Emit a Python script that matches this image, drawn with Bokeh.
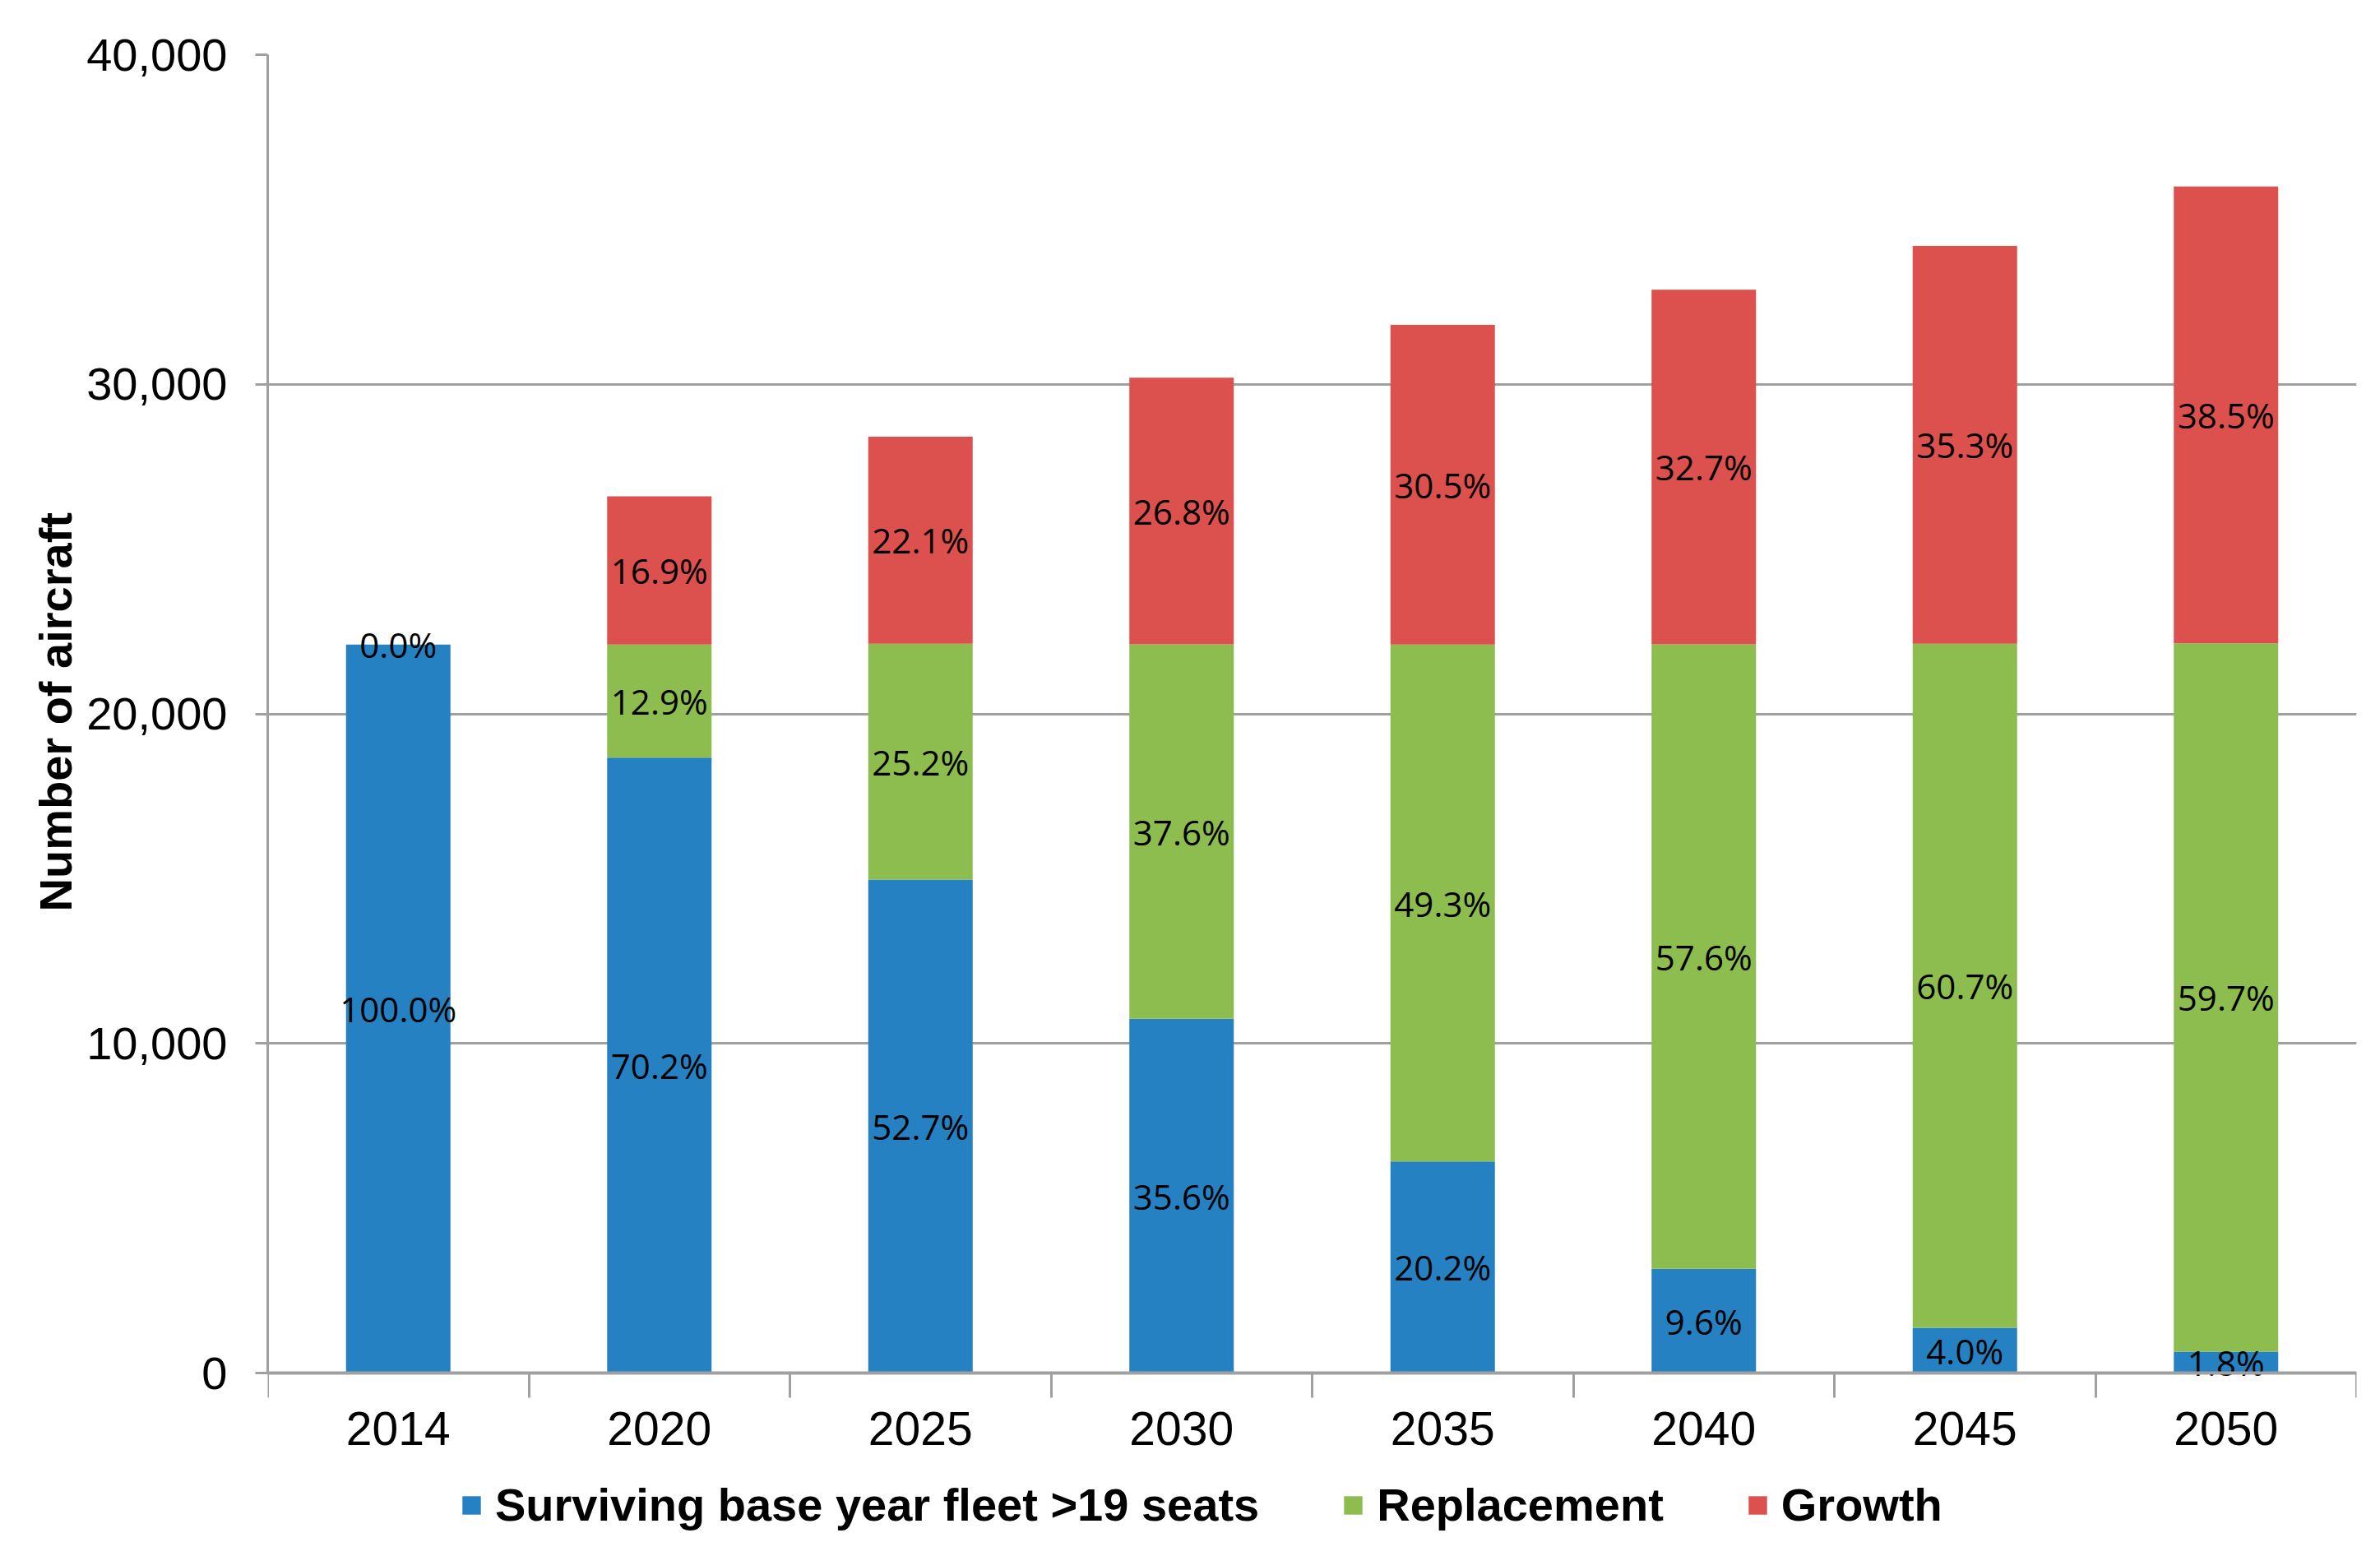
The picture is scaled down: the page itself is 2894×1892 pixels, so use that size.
from bokeh.plotting import figure
from bokeh.models import (ColumnDataSource, FactorRange, LinearAxis, FixedTicker, Range1d,
                          NumeralTickFormatter, Legend, LegendItem, SingleIntervalTicker, Title)
from bokeh.core.properties import value
from bokeh.embed import file_html
from bokeh.resources import INLINE

years = ["2014", "2020", "2025", "2030", "2035", "2040", "2045", "2050"]
surviving = [22100, 18670, 14970, 10750, 6420, 3160, 1370, 650]
replacement = [0, 3430, 7160, 11360, 15680, 18950, 20760, 21490]
growth = [0, 4500, 6280, 8090, 9700, 10760, 12070, 13860]
pct_surviving = ["100.0%", "70.2%", "52.7%", "35.6%", "20.2%", "9.6%", "4.0%", "1.8%"]
pct_replacement = ["", "12.9%", "25.2%", "37.6%", "49.3%", "57.6%", "60.7%", "59.7%"]
pct_growth = ["0.0%", "16.9%", "22.1%", "26.8%", "30.5%", "32.7%", "35.3%", "38.5%"]
series_names = ["Surviving base year fleet >19 seats", "Replacement", "Growth"]
colors = ["#2581C1", "#8DBC4F", "#DC504D"]
y_title = "Number of aircraft"

Y_MAX = 40000
# extra room under zero (in data units) that holds the year labels and the legend
Y_BELOW = 5165

src = ColumnDataSource(dict(years=years, surviving=surviving,
                            replacement=replacement, growth=growth))

p = figure(x_range=FactorRange(factors=years), y_range=Range1d(-Y_BELOW, Y_MAX),
           width=2878, height=1876, output_backend="svg", toolbar_location=None,
           x_axis_location=None, min_border_left=325, min_border_right=13,
           min_border_top=66, min_border_bottom=0)
p.outline_line_color = None

stack = p.vbar_stack(["surviving", "replacement", "growth"], x="years", width=0.4,
                     source=src, color=colors, line_color=None)

# percentage labels at segment centres
lx, ly, lt = [], [], []
for i, yr in enumerate(years):
    b = 0
    for vals, pcts in ((surviving, pct_surviving), (replacement, pct_replacement),
                       (growth, pct_growth)):
        v = vals[i]
        if pcts[i]:
            lx.append(yr)
            ly.append(b + v / 2)
            lt.append(pcts[i])
        b += v
lsrc = ColumnDataSource(dict(x=lx, y=ly, t=lt))
p.text(x="x", y="y", text="t", source=lsrc, text_align="center",
       text_baseline="middle", text_font_size="42px", text_font=value("Open Sans"),
       text_color="#000000")

# y axis
ya = p.yaxis[0]
ya.bounds = (0, Y_MAX)
ya.ticker = SingleIntervalTicker(interval=10000, num_minor_ticks=0)
ya.formatter = NumeralTickFormatter(format="0,0")
ya.axis_line_color = "#A0A0A0"
ya.axis_line_width = 3
ya.major_tick_line_color = "#A0A0A0"
ya.major_tick_line_width = 3
ya.major_tick_out = 15
ya.major_tick_in = 0
ya.minor_tick_line_color = None
ya.major_label_standoff = 34
ya.major_label_text_font = "Liberation Sans"
ya.major_label_text_font_size = "56px"
ya.major_label_text_color = "#000000"

# y-axis title, centred on the 0..40,000 part of the axis
p.add_layout(Title(text=y_title, align="left", offset=768,
                   text_font="Liberation Sans", text_font_size="56px",
                   text_font_style="bold", text_color="#000000", standoff=7), "left")

p.ygrid.grid_line_color = "#A0A0A0"
p.ygrid.grid_line_width = 3
p.xgrid.grid_line_color = None

# x axis at y = 0: labels at category centres, ticks at category boundaries
n = len(years)
centres = [i + 0.5 for i in range(n)]
xa = LinearAxis(ticker=FixedTicker(ticks=centres, minor_ticks=list(range(n + 1))),
                fixed_location=0)
xa.major_label_overrides = {c: yr for c, yr in zip(centres, years)}
xa.axis_line_color = "#A0A0A0"
xa.axis_line_width = 4
xa.major_tick_line_color = None
xa.major_tick_out = 0
xa.major_tick_in = 0
xa.minor_tick_line_color = "#A0A0A0"
xa.minor_tick_line_width = 3
xa.minor_tick_out = 30
xa.minor_tick_in = 0
xa.major_label_standoff = 17
xa.major_label_text_font = "Liberation Sans"
xa.major_label_text_font_size = "57px"
xa.major_label_text_color = "#000000"
p.add_layout(xa, "below")

legend = Legend(items=[LegendItem(label=nm, renderers=[r]) for nm, r in zip(series_names, stack)],
                orientation="horizontal", location=(234, 14),
                label_text_font="Liberation Sans", label_text_font_size="56px",
                label_text_font_style="bold", label_text_color="#000000",
                glyph_width=28, glyph_height=28, label_standoff=15, spacing=100,
                padding=0, margin=0, border_line_color=None, background_fill_alpha=0)
p.add_layout(legend, "center")

open("out.html", "w").write(file_html(p, INLINE))
